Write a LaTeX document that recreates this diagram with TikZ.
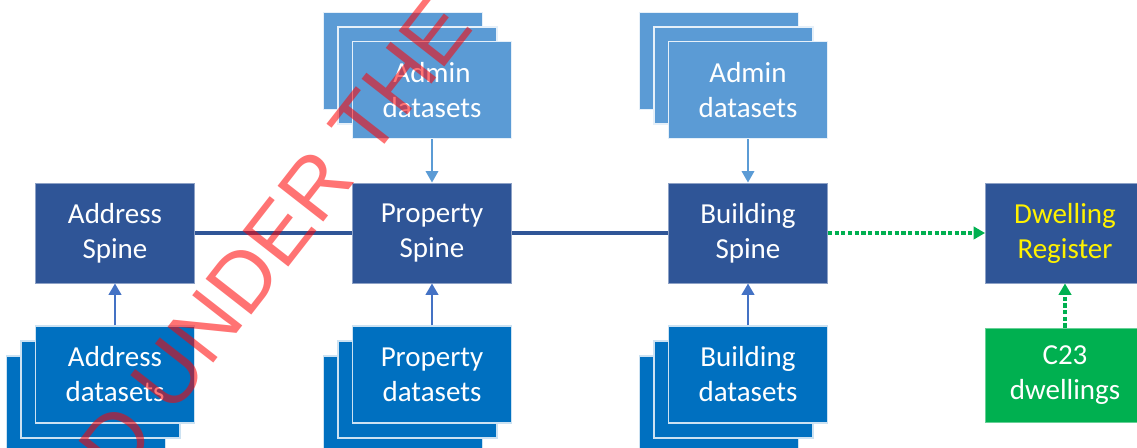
\documentclass[tikz,border=0pt]{standalone}
\usepackage{fontspec}
\setmainfont{Carlito}
\newfontfamily\stampfont{Liberation Sans}
\usepackage{tikz}
\usetikzlibrary{
    arrows.meta,
    positioning
}
\definecolor{spineblue}{HTML}{2F5597}
\definecolor{adminblue}{HTML}{5B9BD5}
\definecolor{datablue}{HTML}{0070C0}
\definecolor{feedblue}{HTML}{4472C4}
\definecolor{censusgreen}{HTML}{00B050}

\begin{document}
\begin{tikzpicture}[x=0.02cm, y=-0.02cm,
    box/.style={rectangle, minimum width=3.18cm, minimum height=1.94cm, inner sep=0pt,
        align=center, text=white, font=\fontsize{16.5}{19.9}\selectfont},
    spine/.style={box, fill=spineblue, draw=spineblue!55!white, line width=0.5pt, minimum height=2cm},
    admin/.style={box, fill=adminblue, draw=white!85!adminblue, line width=0.7pt},
    data/.style={box, fill=datablue, draw=white!80!datablue, line width=0.7pt},
    census/.style={box, fill=censusgreen, draw=censusgreen!60!white, line width=0.5pt, minimum height=1.88cm},
    feed/.style={-{Triangle[length=6.5pt, width=7pt]}, line width=1.7pt, feedblue},
    adminfeed/.style={-{Triangle[length=6.5pt, width=7pt]}, line width=1.3pt, adminblue},
    newlink/.style={-{Triangle[length=6.5pt, width=7pt]}, line width=1.9pt, censusgreen,
        dash pattern=on 2.4pt off 1.4pt}
]
    \useasboundingbox (0,0) rectangle (1137,448);
    \clip (0,0) rectangle (1137,448);

    % spines
    \node[spine] (as) at (115, 233) {Address\\Spine};
    \node[spine] (ps) at (432, 233) {Property\\Spine};
    \node[spine] (bs) at (748, 233) {Building\\Spine};
    \node[spine, text=yellow] (dr) at (1065, 233) {Dwelling\\Register};

    % admin stacks
    \node[admin] (pa3) at (403, 61) {};
    \node[admin] (pa2) at (417.5, 75.5) {};
    \node[admin] (pa) at (432, 90) {Admin\\datasets};
    \node[admin] (ba3) at (719, 61) {};
    \node[admin] (ba2) at (733.5, 75.5) {};
    \node[admin] (ba) at (748, 90) {Admin\\datasets};

    % dataset stacks
    \node[data] (ad3) at (86, 404.5) {};
    \node[data] (ad2) at (100.5, 389.5) {};
    \node[data] (ad) at (115, 374.5) {Address\\datasets};
    \node[data] (pd3) at (403, 404.5) {};
    \node[data] (pd2) at (417.5, 389.5) {};
    \node[data] (pd) at (432, 374.5) {Property\\datasets};
    \node[data] (bd3) at (719, 404.5) {};
    \node[data] (bd2) at (733.5, 389.5) {};
    \node[data] (bd) at (748, 374.5) {Building\\datasets};

    \node[census] (c23) at (1065, 375) {C23\\dwellings};

    \draw[spineblue, line width=2pt]
    (as) edge (ps)
    (ps) edge (bs);
    \draw
    (ad) edge[feed] (as)
    (pd) edge[feed] (ps)
    (bd) edge[feed] (bs)
    (pa) edge[adminfeed] (ps)
    (ba) edge[adminfeed] (bs)
    (bs) edge[newlink] (dr)
    (c23) edge[newlink] (dr);

    % stamp over the picture
    \node[rotate=52, text=red, text opacity=0.55, inner sep=0pt,
        font=\stampfont\fontsize{48}{48}\selectfont] (stamp) at (258, 260) {ED UNDER THE};
\end{tikzpicture}
\end{document}
